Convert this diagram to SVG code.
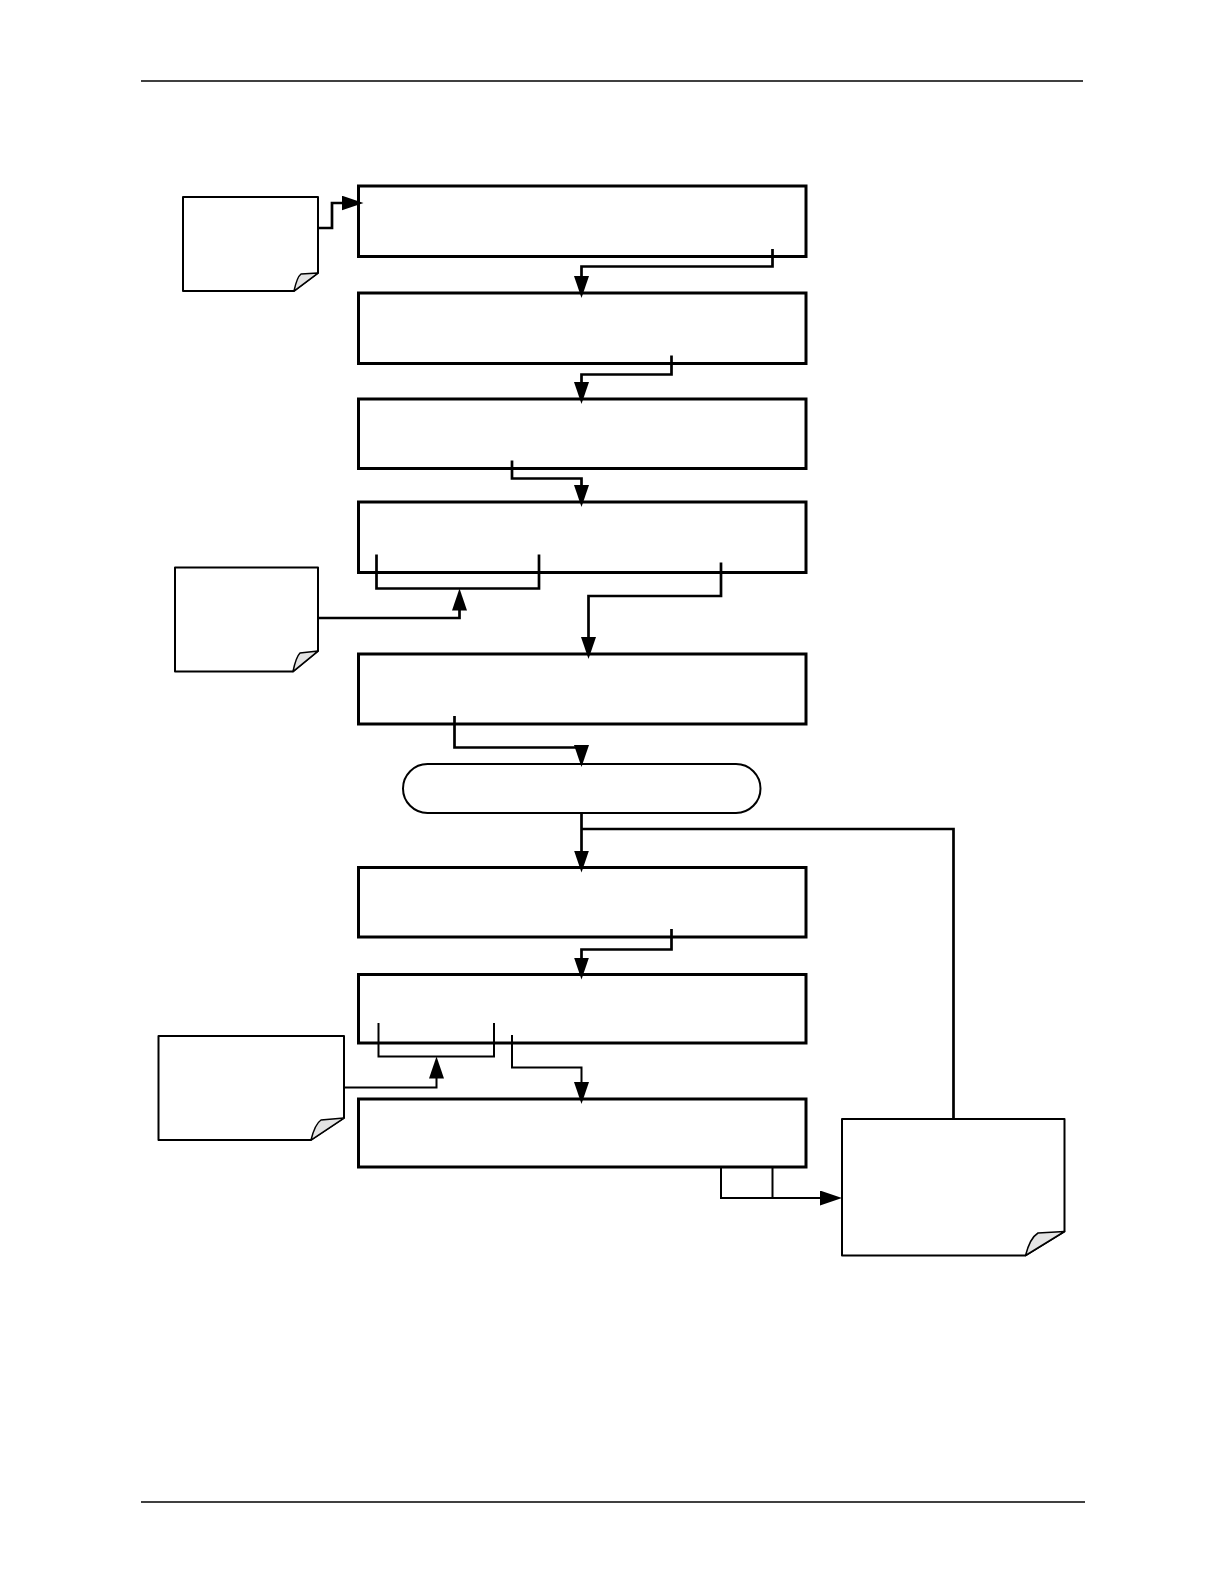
<svg xmlns="http://www.w3.org/2000/svg" width="1224" height="1584" viewBox="0 0 1224 1584">
<style>
.box{fill:#fff;stroke:#000;stroke-width:3}
.term{fill:#fff;stroke:#000;stroke-width:2}
.note{fill:#fff;stroke:#000;stroke-width:2;stroke-linejoin:round}
.curl{fill:#e4e4e4;stroke:#000;stroke-width:1.5;stroke-linejoin:round}
.conn{fill:none;stroke:#000;stroke-width:2.7}
.thin{fill:none;stroke:#000;stroke-width:2}
.rule{stroke:#000;stroke-width:1.3}
</style>
<defs>
<marker id="arr" markerUnits="userSpaceOnUse" markerWidth="24" markerHeight="16" refX="17" refY="7.5" orient="auto">
<path d="M0,0 L22,7.5 L0,15 z" fill="#000"/>
</marker>
</defs>
<line class="rule" x1="141" y1="81" x2="1083" y2="81"/>
<line class="rule" x1="141" y1="1502" x2="1085" y2="1502"/>

<g id="box1"><rect class="box" x="358.5" y="186" width="447.5" height="70.5"/></g>
<g id="box2"><rect class="box" x="358.5" y="293" width="447.5" height="70.5"/></g>
<g id="box3"><rect class="box" x="358.5" y="399" width="447.5" height="69.5"/></g>
<g id="box4"><rect class="box" x="358.5" y="502" width="447.5" height="70.5"/></g>
<g id="box5"><rect class="box" x="358.5" y="654" width="447.5" height="70"/></g>
<g id="terminator"><rect class="term" x="403" y="764" width="357.5" height="49" rx="24.5" ry="24.5"/></g>
<g id="box6"><rect class="box" x="358.5" y="867.5" width="447.5" height="69.5"/></g>
<g id="box7"><rect class="box" x="358.5" y="974.5" width="447.5" height="68.5"/></g>
<g id="box8"><rect class="box" x="358.5" y="1099" width="447.5" height="68"/></g>

<g id="note1">
<path class="note" d="M183,197 H318 V273 L294,291 H183 Z"/>
<path class="curl" d="M294,291 Q297,277 301,274 L318,273 Z"/>
</g>
<g id="note2">
<path class="note" d="M175,567.5 H318 V651 L293,671.5 H175 Z"/>
<path class="curl" d="M293,671.5 Q296,657 300,653 L318,651 Z"/>
</g>
<g id="note3">
<path class="note" d="M158.5,1036 H344 V1118 L311,1140 H158.5 Z"/>
<path class="curl" d="M311,1140 Q315,1124 321,1120 L344,1118 Z"/>
</g>
<g id="note4">
<path class="note" d="M842,1119 H1064.5 V1231.5 L1025.5,1255.5 H842 Z"/>
<path class="curl" d="M1025.5,1255.5 Q1030,1238 1038,1233 L1064.5,1231.5 Z"/>
</g>

<g id="connectors">
<path class="conn" d="M318,228 H332 V203 H358.5" marker-end="url(#arr)"/>
<path class="conn" d="M772.5,249 V266.5 H581.5 V293" marker-end="url(#arr)"/>
<path class="conn" d="M671.5,355.5 V374.5 H581.5 V399" marker-end="url(#arr)"/>
<path class="conn" d="M512,460.5 V478.5 H581.5 V502" marker-end="url(#arr)"/>
<path class="conn" d="M376.5,554.5 V588.5 H539 V554.5"/>
<path class="conn" d="M318,618 H459.5 V593.5" marker-end="url(#arr)"/>
<path class="conn" d="M721,562.5 V596 H588.5 V654" marker-end="url(#arr)"/>
<path class="conn" d="M454.5,716 V747.5 H581.5 V762" marker-end="url(#arr)"/>
<path class="conn" d="M581.5,813 V867.5" marker-end="url(#arr)"/>
<path class="conn" d="M581.5,829 H953.5 V1119"/>
<path class="conn" d="M671.5,929 V949.5 H581.5 V974.5" marker-end="url(#arr)"/>
<path class="thin" d="M378.5,1023 V1056.5 H494 V1023"/>
<path class="thin" d="M344,1087.5 H436.5 V1061.5" marker-end="url(#arr)"/>
<path class="thin" d="M512,1035 V1067.5 H581.5 V1099" marker-end="url(#arr)"/>
<path class="thin" d="M721,1167 V1198 H772.5 V1167"/>
<path class="thin" d="M772.5,1198 H837" marker-end="url(#arr)"/>
</g>
</svg>
